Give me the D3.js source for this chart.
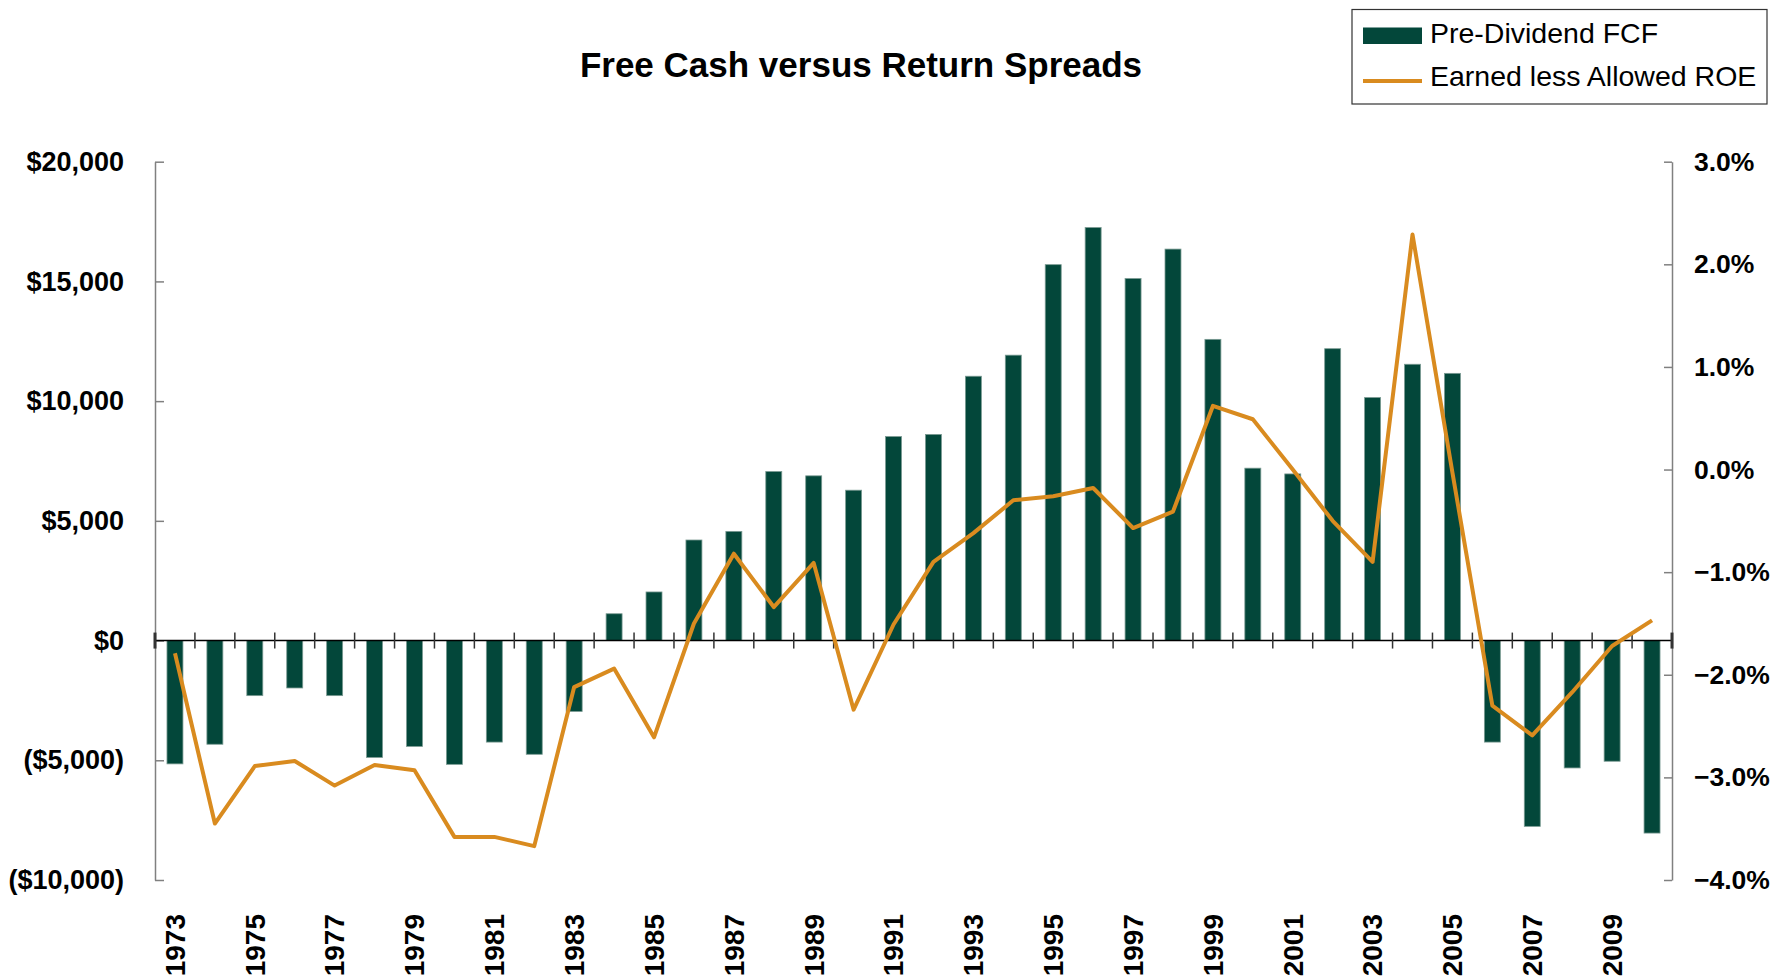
<!DOCTYPE html>
<html>
<head>
<meta charset="utf-8">
<script src="https://cdn.jsdelivr.net/npm/d3@7"></script>
<style>
  html, body { margin: 0; padding: 0; background: #fff; }
  svg { display: block; font-family: "Liberation Sans", Arial, sans-serif; }
</style>
</head>
<body>
<div id="chart"></div>
<script>
const years = d3.range(1973, 2011)

// Pre-Dividend FCF ($)
const fcf = [
  -5150, -4330, -2300, -1980, -2300, -4880, -4420, -5170, -4240, -4750,
  -2960, 1120, 2030, 4200, 4560, 7060, 6880, 6280, 8520, 8610,
  11040, 11920, 15700, 17250, 15120, 16350, 12580, 7200, 6960, 12190,
  10150, 11540, 11160, -4240, -7760, -5320, -5040, -8040
]

// Earned less Allowed ROE (%)
const roe = [
  -1.79, -3.45, -2.89, -2.84, -3.08, -2.88, -2.93, -3.58, -3.58, -3.67,
  -2.12, -1.94, -2.61, -1.50, -0.82, -1.34, -0.91, -2.34, -1.51, -0.90,
  -0.62, -0.30, -0.26, -0.18, -0.57, -0.41, 0.62, 0.49, 0.00, -0.50,
  -0.90, 2.29, -0.03, -2.30, -2.59, -2.17, -1.72, -1.47
]

const leftTicks = [-10000, -5000, 0, 5000, 10000, 15000, 20000]
const rightTicks = [-4, -3, -2, -1, 0, 1, 2, 3]
const seriesNames = ["Pre-Dividend FCF", "Earned less Allowed ROE"]

const dimensions = {
  width: 1771,
  height: 979,
  left: 155,
  right: 1672,
  top: 161.7,
  bottom: 880
}

const barColor = "#03473a"
const lineColor = "#d98b1f"

const svg = d3.select("#chart")
  .append("svg")
  .attr("width", dimensions.width)
  .attr("height", dimensions.height)

const xScale = d3.scaleBand()
  .domain(years)
  .range([dimensions.left, dimensions.right])
  .paddingInner(0.6)
  .paddingOuter(0.3)

const yLeft = d3.scaleLinear()
  .domain([-10000, 20000])
  .range([dimensions.bottom, dimensions.top])

const yRight = d3.scaleLinear()
  .domain([-4, 3])
  .range([dimensions.bottom, dimensions.top])

// title
svg.append("text")
  .attr("x", 861)
  .attr("y", 77)
  .attr("text-anchor", "middle")
  .attr("font-size", 35)
  .attr("font-weight", "bold")
  .text("Free Cash versus Return Spreads")

// left axis
const moneyFmt = d3.format(",")
const leftAxis = d3.axisLeft(yLeft)
  .tickValues(leftTicks)
  .tickSize(-9)
  .tickSizeOuter(0)
  .tickPadding(31)
  .tickFormat(d => d < 0 ? "($" + moneyFmt(-d) + ")" : "$" + moneyFmt(d))

const gLeft = svg.append("g")
  .attr("transform", `translate(${dimensions.left},0)`)
  .call(leftAxis)

// right axis
const rightAxis = d3.axisRight(yRight)
  .tickValues(rightTicks)
  .tickSize(-8)
  .tickSizeOuter(0)
  .tickPadding(22)
  .tickFormat(d => d3.format(".1f")(d) + "%")

const gRight = svg.append("g")
  .attr("transform", `translate(${dimensions.right},0)`)
  .call(rightAxis)

for (const g of [gLeft, gRight]) {
  g.selectAll("path, line").attr("stroke", "#808080").attr("stroke-width", 1.5)
  g.selectAll("text")
    .attr("font-size", 27)
    .attr("font-weight", "bold")
    .attr("font-family", "Liberation Sans, Arial, sans-serif")
    .attr("fill", "#000")
}
gRight.selectAll("text").attr("font-size", 26.5)

// bars
svg.append("g")
  .selectAll("rect")
  .data(years)
  .join("rect")
  .attr("x", d => xScale(d))
  .attr("width", xScale.bandwidth())
  .attr("y", (d, i) => yLeft(Math.max(0, fcf[i])))
  .attr("height", (d, i) => Math.abs(yLeft(fcf[i]) - yLeft(0)))
  .attr("fill", barColor)
  .attr("stroke", "#7a9a92")
  .attr("stroke-width", 0.8)

// x axis line at zero with ticks between categories
const zeroY = yLeft(0)
const gx = svg.append("g")
gx.append("line")
  .attr("x1", dimensions.left)
  .attr("x2", dimensions.right)
  .attr("y1", zeroY)
  .attr("y2", zeroY)
  .attr("stroke", "#000")
  .attr("stroke-width", 1.5)

const step = xScale.step()
gx.selectAll("line.tick")
  .data(d3.range(years.length + 1))
  .join("line")
  .attr("class", "tick")
  .attr("x1", i => dimensions.left + i * step)
  .attr("x2", i => dimensions.left + i * step)
  .attr("y1", zeroY - 8)
  .attr("y2", zeroY + 8)
  .attr("stroke", "#333")
  .attr("stroke-width", i => (i === 0 || i === years.length) ? 3 : 1.5)

// line
const line = d3.line()
  .x(d => xScale(d.year) + xScale.bandwidth() / 2)
  .y(d => yRight(d.value))

svg.append("path")
  .datum(years.map((y, i) => ({ year: y, value: roe[i] })))
  .attr("d", line)
  .attr("fill", "none")
  .attr("stroke", lineColor)
  .attr("stroke-width", 4)
  .attr("stroke-linejoin", "round")

// year labels, every other year
svg.append("g")
  .selectAll("text")
  .data(years.filter((d, i) => i % 2 === 0))
  .join("text")
  .attr("transform", d => `translate(${xScale(d) + xScale.bandwidth() / 2},914) rotate(-90)`)
  .attr("text-anchor", "end")
  .attr("dy", "0.35em")
  .attr("font-size", 28)
  .attr("font-weight", "bold")
  .text(d => d)

// legend
const legend = svg.append("g")
legend.append("rect")
  .attr("x", 1352)
  .attr("y", 9.5)
  .attr("width", 415)
  .attr("height", 94.5)
  .attr("fill", "#fff")
  .attr("stroke", "#333")
  .attr("stroke-width", 1.2)

legend.append("rect")
  .attr("x", 1363)
  .attr("y", 27.5)
  .attr("width", 59)
  .attr("height", 16.5)
  .attr("fill", barColor)

legend.append("line")
  .attr("x1", 1363)
  .attr("x2", 1422)
  .attr("y1", 81)
  .attr("y2", 81)
  .attr("stroke", lineColor)
  .attr("stroke-width", 4)

legend.selectAll("text")
  .data(seriesNames)
  .join("text")
  .attr("x", 1430)
  .attr("y", (d, i) => i === 0 ? 42.5 : 86)
  .attr("font-size", 28.5)
  .text(d => d)
</script>
</body>
</html>
